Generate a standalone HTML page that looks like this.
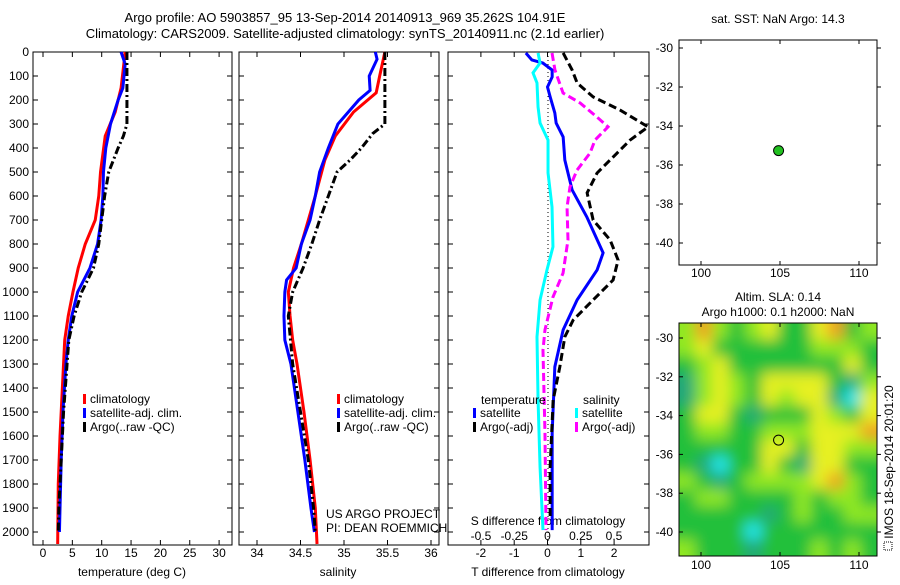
<!DOCTYPE html>
<html><head><meta charset="utf-8"><style>
body{margin:0;background:#fff}
svg{font-family:"Liberation Sans",sans-serif;font-size:12px}
</style></head><body>
<svg id="s" width="900" height="580">
<text x="345" y="22" text-anchor="middle" font-size="13">Argo profile: AO 5903857_95 13-Sep-2014 20140913_969 35.262S 104.91E</text>
<text x="345" y="38" text-anchor="middle" font-size="13">Climatology: CARS2009. Satellite-adjusted climatology: synTS_20140911.nc (2.1d earlier)</text>
</svg>
<script>
const tClimD=[0,150,250,350,500,600,700,800,900,1000,1100,1200,1400,1600,1800,2050];
const tClimV=[14.0,13.3,12.3,10.6,9.8,9.5,8.9,7.2,6.0,5.1,4.3,3.7,3.3,2.9,2.6,2.5];
const tSatD=[0,50,150,200,300,400,500,600,700,800,900,1000,1100,1200,1300,1500,1700,1900,2000];
const tSatV=[13.3,14.0,13.6,12.8,11.5,10.7,10.3,10.2,9.9,9.3,8.0,5.9,4.9,4.3,3.9,3.4,3.1,2.9,2.8];
const tArgoD=[0,300,350,400,500,600,700,800,900,1000,1100,1200,1300,1500,1700,1900,2000];
const tArgoV=[14.3,14.3,13.7,12.8,11.2,10.5,10.0,9.5,8.6,6.6,5.3,4.4,4.1,3.5,3.1,2.7,2.6];
const sClimD=[0,100,170,250,350,450,600,700,800,900,1000,1100,1200,1300,1500,1700,1900,2050];
const sClimV=[35.47,35.41,35.37,35.11,34.90,34.78,34.67,34.59,34.51,34.42,34.36,34.38,34.41,34.46,34.54,34.61,34.67,34.69];
const sSatD=[0,30,100,160,200,300,400,500,600,700,800,900,950,1000,1100,1200,1300,1500,1700,1900,2000];
const sSatV=[35.36,35.38,35.29,35.30,35.17,34.93,34.82,34.72,34.67,34.61,34.51,34.45,34.34,34.32,34.31,34.32,34.39,34.47,34.55,34.62,34.66];
const sArgoD=[0,300,340,400,450,500,600,700,800,900,1000,1100,1300,1500,1700,1900,2000];
const sArgoV=[35.47,35.47,35.33,35.2,35.07,34.92,34.82,34.72,34.63,34.53,34.41,34.36,34.41,34.5,34.59,34.65,34.67];
const dTsD=[4,33,46,75,104,146,187,254,296,354,450,575,687,837,908,1033,1158,1312,1587,1992];
const dTsV=[-0.65,-0.47,-0.14,0.14,0.14,0,0.08,0.22,0.26,0.47,0.52,0.74,1.18,1.67,1.49,0.89,0.47,0.22,0.14,0.14];
const dTaD=[4,75,129,187,242,312,367,421,504,587,700,783,867,950,1033,1117,1187,1312,1450,1729,1937];
const dTaV=[0.47,0.74,0.89,1.37,2.18,3.02,2.48,2.09,1.49,1.19,1.37,1.88,2.12,1.97,1.37,0.77,0.52,0.37,0.17,0.08,0.08];
const dSsD=[4,46,87,129,229,296,367,504,646,812,908,1033,1187,1450,1729,1992];
const dSsV=[-0.071,-0.056,-0.109,-0.079,-0.071,-0.056,0.004,0.004,0.034,0.041,-0.004,-0.056,-0.079,-0.071,-0.056,-0.034];
const dSaD=[4,75,171,212,271,312,367,421,492,562,646,783,921,1021,1158,1242,1587,1992];
const dSaV=[0.034,0.056,0.117,0.244,0.372,0.455,0.357,0.32,0.222,0.169,0.147,0.154,0.117,0.041,-0.019,-0.034,-0.019,-0.011];
const depthTicks=[0,100,200,300,400,500,600,700,800,900,1000,1100,1200,1300,1400,1500,1600,1700,1800,1900,2000];
const tTicks=[0,5,10,15,20,25,30];
const sTicks=[34,34.5,35,35.5,36];
const dtTicks=[-2,-1,0,1,2];
const dsTicks=[-0.5,-0.25,0,0.25,0.5];
const dsLabels=["-0.5","-0.25","0","0.25","0.5"];
const latTicks=[-30,-32,-34,-36,-38,-40];
const lonTicks=[100,105,110];
const argoLon=[104.91], argoLat=[-35.262];
const slaGrid=[
[3,5,3,2,3,4,2,2,4,5,2,3],[3,4,2,2,2,2,2,2,3,3,3,2],[2,3,4,2,2,2,2,2,2,2,4,2],
[1,3,4,3,2,4,4,4,4,2,1,3],[1,3,4,3,2,4,3,4,4,1,0,4],[2,4,4,2,1,2,2,2,4,3,2,4],
[2,3,3,2,2,3,3,3,4,4,4,5],[2,2,2,2,2,4,4,2,4,4,3,3],[2,1,0,2,2,4,2,1,4,4,2,2],
[3,2,1,2,3,3,3,3,4,5,3,2],[2,3,3,2,2,2,2,3,2,3,3,2],[2,2,2,2,2,1,2,3,2,2,3,3],
[2,2,2,2,0,2,2,2,2,2,2,2],[3,2,2,2,1,2,2,2,3,2,3,2]];
const slaColors=["#20e8f0","#22a878","#22c03a","#90e820","#e6f020","#f0a020"];

const S=document.getElementById('s'),NS='http://www.w3.org/2000/svg';
function el(t,a,p){const e=document.createElementNS(NS,t);for(const k in a)e.setAttribute(k,a[k]);(p||S).appendChild(e);return e;}
function tx(x,y,s,anchor,p){const e=el('text',{x:x,y:y,'text-anchor':anchor||'middle'},p);e.textContent=s;return e;}
const yD=d=>52+d*0.24;
const xT=t=>43+t*5.87, xS=s=>257+(s-34)*87, xDT=v=>547.5+v*33.3, xDS=v=>547.5+v*133;
const Y0=52,Y1=545;
function panel(name,x0,x1,ticks,fx,labels){
  const g=el('g',{});
  
  
  el('rect',{x:x0,y:Y0,width:x1-x0,height:Y1-Y0,fill:'none',stroke:'#000'},g);
  depthTicks.forEach(d=>{el('line',{x1:x0,x2:x0+5,y1:yD(d),y2:yD(d),stroke:'#000'},g);el('line',{x1:x1,x2:x1-5,y1:yD(d),y2:yD(d),stroke:'#000'},g);});
  ticks.forEach((t,i)=>{const x=fx(t);el('line',{x1:x,x2:x,y1:Y0,y2:Y0+5,stroke:'#000'},g);el('line',{x1:x,x2:x,y1:Y1,y2:Y1-5,stroke:'#000'},g);
    if(labels)tx(x,557,labels[i],'middle',g);});
  return g;
}
function line(name,D,V,fx,color,w,dash){
  const p=el('polyline',{points:D.map((d,i)=>fx(V[i])+','+yD(d)).join(' '),fill:'none',stroke:color,'stroke-width':w,'stroke-dasharray':dash||'none'});
  
  
}
panel('temperature-panel',33,232,tTicks,xT,tTicks.map(String));
depthTicks.forEach(d=>{tx(29,yD(d)+4,String(d),'end');});
tx(132,576,'temperature (deg C)');
panel('salinity-panel',239,439,sTicks,xS,sTicks.map(String));
tx(338,576,'salinity');
panel('difference-panel',448,649,dtTicks,xDT,dtTicks.map(String));
dsTicks.forEach((t,i)=>tx(xDS(t),540,dsLabels[i]));
tx(548,525,'S difference from climatology');
tx(548,576,'T difference from climatology');
el('line',{x1:548,x2:548,y1:Y0,y2:Y1,stroke:'#000','stroke-dasharray':'1,3'});
line('temp-climatology',tClimD,tClimV,xT,'#f00',3);
line('temp-satellite-adj',tSatD,tSatV,xT,'#00f',3);
line('temp-argo',tArgoD,tArgoV,xT,'#000',3,'8,3,2,3');
line('sal-climatology',sClimD,sClimV,xS,'#f00',3);
line('sal-satellite-adj',sSatD,sSatV,xS,'#00f',3);
line('sal-argo',sArgoD,sArgoV,xS,'#000',3,'8,3,2,3');
line('dt-satellite',dTsD,dTsV,xDT,'#00f',3);
line('dt-argo',dTaD,dTaV,xDT,'#000',3,'8,4');
line('ds-satellite',dSsD,dSsV,xDS,'#0ff',3);
line('ds-argo',dSaD,dSaV,xDS,'#f0f',3,'8,4');
function legend(x,y,items){items.forEach((it,i)=>{el('rect',{x:x,y:y+i*14-9,width:3,height:10,fill:it[1]});const t=tx(x+7,y+i*14,it[0],'start');
  });}
legend(83,403,[['climatology','#f00'],['satellite-adj. clim.','#00f'],['Argo(..raw -QC)','#000']]);
legend(337,403,[['climatology','#f00'],['satellite-adj. clim.','#00f'],['Argo(..raw -QC)','#000']]);
tx(481,404,'temperature','start');tx(583,404,'salinity','start');
legend(473,417,[['satellite','#00f'],['Argo(-adj)','#000']]);
legend(575,417,[['satellite','#0ff'],['Argo(-adj)','#f0f']]);
tx(326,518,'US ARGO PROJECT','start');tx(326,532,'PI: DEAN ROEMMICH','start');
const MX0=679,MX1=877,xLon=l=>701+(l-100)*15.8;
function map(name,y0,y1,ylat,lab){
  const g=el('g',{});
  
  
  latTicks.forEach(l=>{el('line',{x1:MX0,x2:MX0+4,y1:ylat(l),y2:ylat(l),stroke:'#000'},g);el('line',{x1:MX1,x2:MX1+4,y1:ylat(l),y2:ylat(l),stroke:'#000'},g);tx(673,ylat(l)+4,String(l),'end',g);});
  lonTicks.forEach(l=>{el('line',{x1:xLon(l),x2:xLon(l),y1:y0,y2:y0+4,stroke:'#000'},g);el('line',{x1:xLon(l),x2:xLon(l),y1:y1,y2:y1-4,stroke:'#000'},g);tx(xLon(l),lab,String(l),'middle',g);});
  return g;
}
const yLat1=l=>48+(-30-l)*19.5, yLat2=l=>338+(-30-l)*19.4;
const defs=el('defs',{});
const cp=el('clipPath',{id:'mc'},defs);el('rect',{x:MX0,y:323,width:MX1-MX0,height:233},cp);
const f=el('filter',{id:'bl',x:'-10%',y:'-10%',width:'120%',height:'120%'},defs);el('feGaussianBlur',{stdDeviation:7},f);
const hg=el('g',{'clip-path':'url(#mc)'});const hi=el('g',{filter:'url(#bl)'},hg);
const cw=(MX1-MX0)/12, ch=233/14;
slaGrid.forEach((row,r)=>row.forEach((v,c)=>{const x0=MX0+c*cw-(c==0?20:0),x1=MX0+(c+1)*cw+(c==11?20:0),y0=323+r*ch-(r==0?20:0),y1=323+(r+1)*ch+(r==13?20:0);
  const cell=el('rect',{x:x0,y:y0,width:x1-x0+0.5,height:y1-y0+0.5,fill:slaColors[v]},hi);
  
  }));
map('sst-map',40,265,yLat1,277);
el('rect',{x:MX0,y:40,width:MX1-MX0,height:225,fill:'none',stroke:'#000'});
map('sla-map',323,556,yLat2,569);
el('rect',{x:MX0,y:323,width:MX1-MX0,height:233,fill:'none',stroke:'#000'});
const p1=el('circle',{cx:xLon(argoLon[0]),cy:yLat1(argoLat[0]),r:5,fill:'#22c020',stroke:'#000'});

const p2=el('circle',{cx:xLon(argoLon[0]),cy:yLat2(argoLat[0]),r:5,fill:'none',stroke:'#000'});

tx(778,23,'sat. SST: NaN Argo: 14.3');
tx(778,301,'Altim. SLA: 0.14');tx(778,316,'Argo h1000: 0.1 h2000: NaN');
const r=tx(0,0,'IMOS 18-Sep-2014 20:01:20','middle');r.setAttribute('transform','translate(893,462) rotate(-90)');
el('rect',{x:884,y:542,width:8,height:8,fill:'none',stroke:'#000','stroke-dasharray':'1,1'});
</script>
</body></html>
